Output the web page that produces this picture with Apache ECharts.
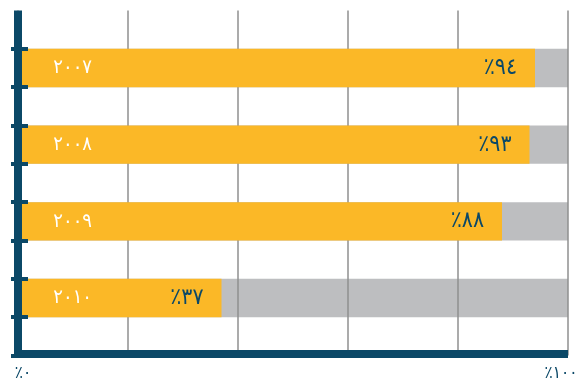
<!DOCTYPE html>
<html>
<head>
<meta charset="utf-8">
<script src="https://cdn.jsdelivr.net/npm/echarts@6/dist/echarts.min.js"></script>
<style>
html,body{margin:0;padding:0;background:#fff;}
#chart{width:588px;height:390px;}
</style>
</head>
<body>
<div id="chart"></div>
<script>
// Data
const years = ['٢٠٠٧', '٢٠٠٨', '٢٠٠٩', '٢٠١٠'];
const shares = [94, 93, 88, 37];
const shareLabels = ['٪٩٤', '٪٩٣', '٪٨٨', '٪٣٧'];
const fullValue = [100, 100, 100, 100];
const xTickLabels = ['٪٠', '٪١٠٠'];

// Build spaced category slots (gap, bar, gap, bar, ...) from the years
const slots = [''];
const slotShares = [null];
const slotFull = [null];
const slotYear = [''];
const slotLabel = [''];
years.forEach((y, i) => {
  slots.push(y); slotShares.push(shares[i]); slotFull.push(fullValue[i]);
  slotYear.push(y); slotLabel.push(shareLabels[i]);
  slots.push(' ' + i); slotShares.push(null); slotFull.push(null);
  slotYear.push(''); slotLabel.push('');
});

const TEAL = '#0B4867';
const FONT = "'DejaVu Sans Condensed', 'DejaVu Sans', sans-serif";
const chart = echarts.init(document.getElementById('chart'));
const tickFn = (idx) => idx >= 1 && idx <= 8;
chart.setOption({
  animation: false,
  grid: { left: 18, right: 20, top: 10.5, height: 345 },
  xAxis: {
    type: 'value', min: 0, max: 100, interval: 20, offset: -2, z: 1,
    axisLine: { show: true, lineStyle: { color: TEAL, width: 8, cap: 'butt' } },
    axisTick: { show: false },
    splitLine: { show: true, lineStyle: { color: '#8f8f8f', width: 1.5 } },
    axisLabel: {
      margin: 12,
      color: TEAL, fontFamily: FONT, fontSize: 17,
      formatter: (v) => v === 0 ? '{l|' + xTickLabels[0] + '}' : (v === 100 ? '{r|' + xTickLabels[1] + '}' : ''),
      rich: {
        l: { color: TEAL, fontFamily: FONT, fontSize: 17, padding: [0, 0, 0, 10] },
        r: { color: TEAL, fontFamily: FONT, fontSize: 17, padding: [0, 14, 0, 0] }
      }
    }
  },
  yAxis: [{
    type: 'category', data: slots, inverse: true, z: 7,
    axisLine: { show: true, lineStyle: { color: TEAL, width: 8, cap: 'butt' } },
    axisTick: { show: false },
    axisLabel: { show: false },
    splitLine: { show: false }
  }, {
    type: 'category', data: slots, inverse: true, position: 'left', offset: -10, z: 6,
    axisLine: { show: false },
    axisTick: { show: true, interval: tickFn, length: 17, lineStyle: { color: TEAL, width: 4, cap: 'butt' } },
    axisLabel: { show: false },
    splitLine: { show: false }
  }],
  series: [{
    type: 'bar', data: slotFull, barWidth: '100%', barGap: '-100%', z: 0,
    itemStyle: { color: '#BDBEC0' }, silent: true
  }, {
    type: 'bar', data: slotShares, barWidth: '100%', z: 2,
    itemStyle: { color: '#FBB827' },
    label: {
      show: true, position: 'insideRight', distance: 18,
      color: TEAL, fontFamily: FONT, fontSize: 23,
      formatter: (p) => slotLabel[p.dataIndex]
    }
  }, {
    type: 'bar', data: slotShares, barWidth: '100%', barGap: '-100%', z: 3,
    itemStyle: { color: 'rgba(0,0,0,0)' },
    label: {
      show: true, position: [74, '50%'], align: 'right', verticalAlign: 'middle',
      color: '#ffffff', fontFamily: FONT, fontSize: 20,
      formatter: (p) => slotYear[p.dataIndex]
    }
  }]
});
</script>
</body>
</html>
